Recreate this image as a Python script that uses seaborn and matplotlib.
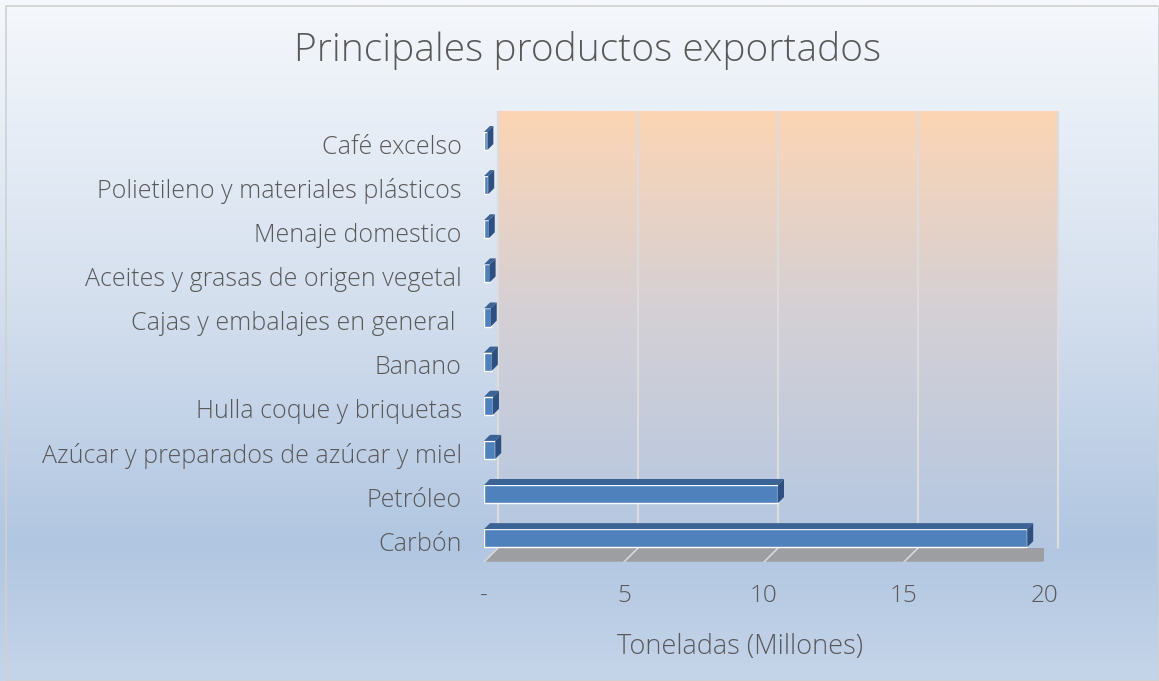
import numpy as np
import matplotlib
matplotlib.use("Agg")
import matplotlib.pyplot as plt
import matplotlib.transforms as mtransforms
from matplotlib.colors import LinearSegmentedColormap
from matplotlib.patches import Polygon, Rectangle
import seaborn as sns

# data (millions of tonnes)
productos = [
    "Café excelso",
    "Polietileno y materiales plásticos",
    "Menaje domestico",
    "Aceites y grasas de origen vegetal",
    "Cajas y embalajes en general ",
    "Banano",
    "Hulla coque y briquetas",
    "Azúcar y preparados de azúcar y miel",
    "Petróleo",
    "Carbón",
]
toneladas = [0.12, 0.15, 0.17, 0.2, 0.24, 0.28, 0.32, 0.4, 10.5, 19.4]
ticks_x = [0, 5, 10, 15, 20]
ticks_x_labels = ["-", "5", "10", "15", "20"]

sns.set_theme(style="white")
plt.rcParams["font.family"] = ["Open Sans", "DejaVu Sans"]
text_color = "#595959"
fw = "light"

W, H = 1159, 681
DPI = 100
fig = plt.figure(figsize=(W / DPI, H / DPI), dpi=DPI)

# chart area background gradient
bg = fig.add_axes([0, 0, 1, 1], zorder=0)
bg_cmap = LinearSegmentedColormap.from_list(
    "bg", [(0.0, "#f5f8fc"), (0.45, "#d4dfee"), (0.8, "#b1c6e1"), (1.0, "#c5d5e9")])
bg.imshow(np.linspace(0, 1, 256).reshape(-1, 1), cmap=bg_cmap, aspect="auto",
          extent=(0, 1, 0, 1), origin="upper")
bg.add_patch(Rectangle((6 / W, 0), 1 - 6 / W, 1 - 6 / H, fill=False,
                       edgecolor="#d0d0d0", lw=1.2, transform=bg.transAxes))
bg.set_xlim(0, 1)
bg.set_ylim(0, 1)
bg.set_axis_off()

# front plane of the plot area
ax = fig.add_axes([484 / W, 1 - 562 / H, 560 / W, 436 / H], zorder=1)
ax.patch.set_alpha(0)

sns.barplot(x=toneladas, y=productos, orient="h", color="#4f81bd",
            saturation=1, width=0.41, ax=ax, zorder=5)
bars = [p for p in ax.patches if isinstance(p, Rectangle)]
ybot, ytop = 9.54, -0.34
ax.set_xlim(0, 20)
ax.set_ylim(ybot, ytop)

depth = 14  # px of the 3D back offset
back = ax.transData + mtransforms.ScaledTranslation(depth / DPI, depth / DPI,
                                                    fig.dpi_scale_trans)

# back wall gradient
wall_cmap = LinearSegmentedColormap.from_list(
    "wall", [(0.0, "#fcd5b4"), (0.45, "#d5d0d5"), (1.0, "#b3c7e2")])
ax.imshow(np.linspace(0, 1, 256).reshape(-1, 1), cmap=wall_cmap, aspect="auto",
          extent=(0, 20, ybot, ytop), origin="upper", transform=back,
          clip_on=False, zorder=0)
ax.set_xlim(0, 20)
ax.set_ylim(ybot, ytop)

# gridlines on the back wall
for xv in ticks_x:
    ax.plot([xv, xv], [ybot, ytop], color="#dcdcdc", lw=1.6, transform=back,
            clip_on=False, zorder=1)

ident = mtransforms.IdentityTransform()
disp = ax.transData

# floor slab
p_fl = disp.transform((0, ybot))
p_fr = disp.transform((20, ybot))
ax.add_artist(Polygon([p_fl, p_fr, p_fr + depth, p_fl + depth], closed=True,
                      facecolor="#9c9ea2", edgecolor="none",
                      transform=ident, zorder=2))
for xv in ticks_x:
    p = disp.transform((xv, ybot))
    ax.add_artist(plt.Line2D([p[0], p[0] + depth], [p[1], p[1] + depth],
                             color="#d8d8d8", lw=1.2, transform=ident, zorder=3))
ax.add_artist(plt.Line2D([p_fl[0], p_fr[0]], [p_fl[1], p_fr[1]], color="#d8d8d8",
                         lw=1.0, transform=ident, zorder=3))

# 3D faces for each bar (derived from the bars seaborn drew)
d = 6
for bar in bars:
    x0, y0 = bar.get_x(), bar.get_y()
    w, h = bar.get_width(), bar.get_height()
    a = disp.transform((x0, y0))
    b = disp.transform((x0 + w, y0 + h))
    left, right = min(a[0], b[0]), max(a[0], b[0])
    low, high = min(a[1], b[1]), max(a[1], b[1])
    top_face = Polygon([(left, high), (right, high), (right + d, high + d), (left + d, high + d)],
                       closed=True, facecolor="#3c6395", edgecolor="none",
                       transform=ident, zorder=6)
    side_face = Polygon([(right, low), (right, high), (right + d, high + d), (right + d, low + d)],
                        closed=True, facecolor="#2d5080", edgecolor="none",
                        transform=ident, zorder=6)
    ax.add_artist(top_face)
    ax.add_artist(side_face)

# axes styling
sns.despine(ax=ax, left=True, bottom=True)
ax.grid(False)
ax.set_yticks(range(len(productos)))
ax.set_yticklabels(productos, fontsize=18, color=text_color, fontweight=fw)
ax.set_xticks(ticks_x)
ax.set_xticklabels(ticks_x_labels, fontsize=17.5, color=text_color, fontweight=fw)
ax.tick_params(axis="y", length=0, pad=16)
ax.tick_params(axis="x", length=0, pad=16)
for lab in ax.get_yticklabels():
    lab.set_transform(lab.get_transform() +
                      mtransforms.ScaledTranslation(0, -3 / DPI, fig.dpi_scale_trans))
ax.set_xlabel("")
ax.set_ylabel("")

fig.text(740 / W, 1 - 647 / H, "Toneladas (Millones)", ha="center", va="center",
         fontsize=19.5, color=text_color, fontweight=fw)
fig.text(588 / W, 1 - 50 / H, "Principales productos exportados", ha="center",
         va="center", fontsize=28, color=text_color, fontweight=fw)

fig.savefig("out.png", dpi=DPI)
